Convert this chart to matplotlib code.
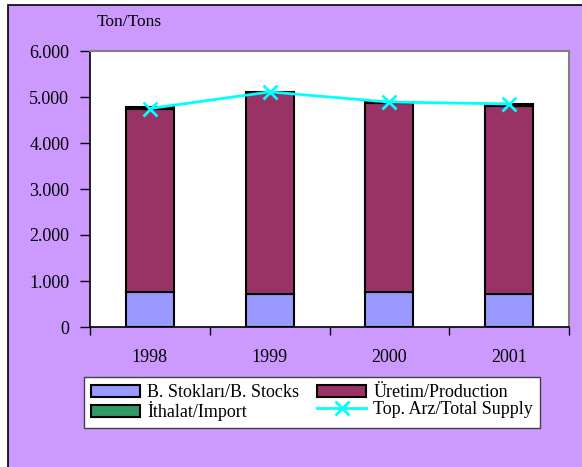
import matplotlib
matplotlib.use("Agg")
import matplotlib.pyplot as plt
from matplotlib.patches import Rectangle, Patch
from matplotlib.lines import Line2D
import numpy as np

years = ["1998", "1999", "2000", "2001"]
stocks = [770, 710, 770, 710]
production = [3975, 4370, 4105, 4085]
imports = [45, 20, 15, 45]
total_supply = [4750, 5110, 4890, 4850]
ytick_vals = [0, 1000, 2000, 3000, 4000, 5000, 6000]
ytick_labels = ["0", "1.000", "2.000", "3.000", "4.000", "5.000", "6.000"]

plt.rcParams['font.family'] = ['Liberation Serif', 'DejaVu Serif']

W, H = 582, 467
fig = plt.figure(figsize=(W/100, H/100), dpi=100, facecolor='white')
bg = Rectangle((8/W, -0.1), 1.2, 1 - 5/H + 0.1, transform=fig.transFigure,
               facecolor='#CC99FF', edgecolor='black', linewidth=1.2, zorder=-10)
fig.patches.append(bg)

ax = fig.add_axes([90/W, 1 - 327/H, 479/W, 276/H])
ax.set_facecolor('white')

x = np.arange(len(years))
bw = 0.4
c_st, c_pr, c_im, c_ln = '#9999FF', '#993366', '#339966', '#00FFFF'
ax.bar(x, stocks, bw, color=c_st, edgecolor='black', linewidth=1.5, zorder=2)
ax.bar(x, production, bw, bottom=stocks, color=c_pr, edgecolor='black', linewidth=1.5, zorder=2)
b2 = np.array(stocks) + np.array(production)
ax.bar(x, imports, bw, bottom=b2, color=c_im, edgecolor='black', linewidth=1.5, zorder=2)
ax.plot(x, total_supply, color=c_ln, linewidth=2, marker='x', markersize=10, mew=2, zorder=3)

fs = 13
ax.set_xlim(-0.5, 3.5)
ax.set_ylim(0, 6000)
ax.set_yticks(ytick_vals)
ax.set_yticklabels(ytick_labels, fontsize=fs)
ax.set_xticks(np.arange(-0.5, 4.0, 1.0))
ax.set_xticklabels([])
ax.set_xticks(x, minor=True)
ax.set_xticklabels(years, minor=True, fontsize=fs)
ax.tick_params(axis='x', which='minor', length=0, pad=16)
ax.tick_params(axis='x', which='major', direction='out', length=6, width=1)
ax.tick_params(axis='y', direction='out', length=7, width=1, pad=8)
for s in ['top', 'right']:
    ax.spines[s].set_color('#808080')
    ax.spines[s].set_linewidth(1.5)
for s in ['left', 'bottom']:
    ax.spines[s].set_color('black')
    ax.spines[s].set_linewidth(1.2)

fig.text(129/W, 1 - 22/H, "Ton/Tons", ha='center', va='center', fontsize=12.5)

handles = [
    Patch(facecolor=c_st, edgecolor='black', linewidth=1.5),
    Patch(facecolor=c_im, edgecolor='black', linewidth=1.5),
    Patch(facecolor=c_pr, edgecolor='black', linewidth=1.5),
    Line2D([], [], color=c_ln, linewidth=2, marker='x', markersize=10, mew=2),
]
labels = ["B. Stokları/B. Stocks", "İthalat/Import", "Üretim/Production", "Top. Arz/Total Supply"]
leg = fig.legend(handles, labels, ncol=2, loc='upper left',
                 bbox_to_anchor=(84/W, 1 - 377/H), fontsize=fs, frameon=True,
                 fancybox=False, framealpha=1, handlelength=2.7, handleheight=0.6,
                 labelspacing=0.0, columnspacing=1.0, handletextpad=0.4,
                 borderpad=0.4, borderaxespad=0)
leg.get_frame().set_edgecolor('#404040')
leg.get_frame().set_linewidth(1)

fig.savefig("out.png", dpi=100, facecolor=fig.get_facecolor())
